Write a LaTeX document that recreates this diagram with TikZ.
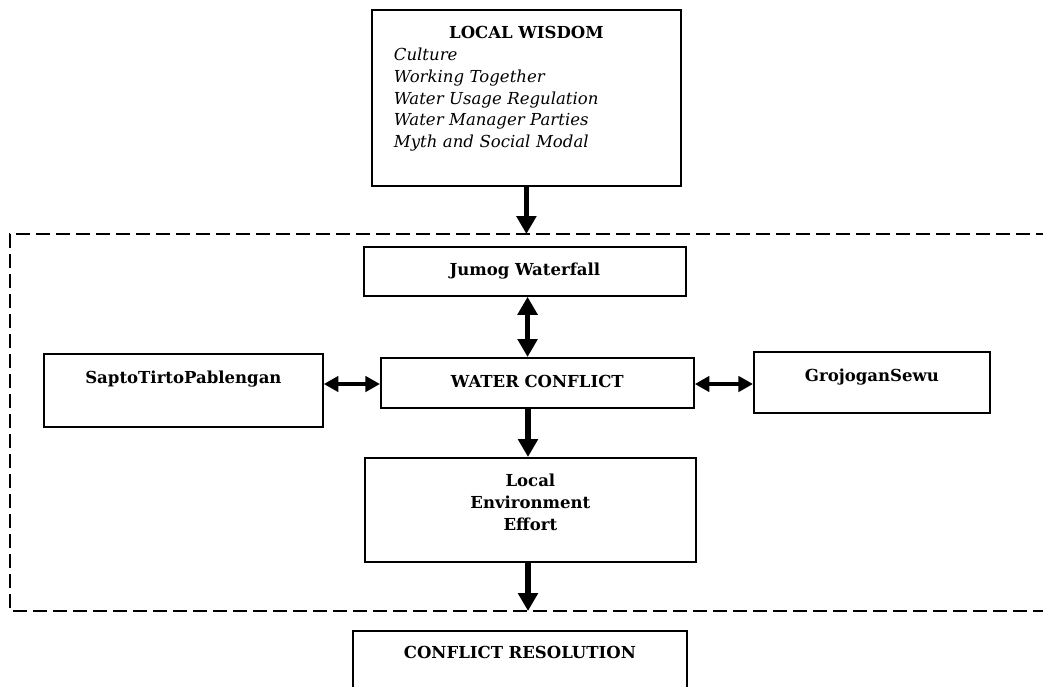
\documentclass[tikz,border=0pt]{standalone}
\usepackage{fontspec}
\setmainfont{DejaVu Serif}
\usetikzlibrary{arrows.meta,positioning}

\begin{document}
\begin{tikzpicture}
	[x=0.75pt,y=-0.75pt,
	 box/.style={draw,line width=1.35pt,anchor=north west,inner sep=0pt,align=center,font=\fontsize{12.4}{16.3}\selectfont\bfseries},
	 onearrow/.style={line width=4pt,-{Triangle[length=13.5pt,width=14.5pt]}},
	 twoarrow/.style={line width=4pt,{Triangle[length=13.5pt,width=14.5pt]}-{Triangle[length=13.5pt,width=14.5pt]}},
	 sidearrow/.style={line width=3.6pt,{Triangle[length=11pt,width=11.5pt]}-{Triangle[length=11pt,width=11.5pt]}},
	 region/.style={line width=1.3pt,dash pattern=on 10.5pt off 4.5pt}]

	\useasboundingbox (0,0) rectangle (1043,686);

	\draw[region] (1050,234) -- (10,234) -- (10,611) -- (1050,611);

	\node[box,text width=198.75pt,inner xsep=16.5pt,align=left,text height=21.75pt,text depth=110.25pt] (lw) at (371,9)
		{\hfill LOCAL WISDOM\hfill\null\\ \mdseries\itshape Culture\\ Working Together\\ Water Usage Regulation\\ Water Manager Parties\\ Myth and Social Modal};
	\node[box,text width=241.5pt,text height=21.75pt,text depth=15pt] (jumog) at (363,246) {Jumog Waterfall};
	\node[box,text width=209.25pt,text height=22.5pt,text depth=32.25pt] (sapto) at (43,353) {SaptoTirtoPablengan};
	\node[box,text width=234.75pt,text height=22.5pt,text depth=15pt] (wc) at (380,357) {WATER CONFLICT};
	\node[box,text width=177pt,text height=22.5pt,text depth=23.25pt] (gro) at (753,351) {GrojoganSewu};
	\node[box,text width=248.25pt,text height=21.75pt,text depth=56.25pt] (lee) at (364,457) {Local\\ Environment\\ Effort};
	\node[box,text width=250.5pt,text height=21pt,text depth=31.5pt] (cr) at (352,630) {CONFLICT RESOLUTION};

	\coordinate (top) at (525.5,234);
	\coordinate (bot) at (528,611);

	\draw[onearrow] (lw.south) -- (lw.south |- top);
	\draw[twoarrow] ([xshift=2pt]jumog.south) -- ([xshift=2pt]jumog.south |- wc.north);
	\draw[sidearrow] (sapto.east |- 0,384) -- (wc.west |- 0,384);
	\draw[sidearrow] (wc.east |- 0,384) -- (gro.west |- 0,384);
	\draw[onearrow] (wc.south -| bot) -- (lee.north -| bot);
	\draw[onearrow] (lee.south -| bot) -- (bot);
\end{tikzpicture}
\end{document}
